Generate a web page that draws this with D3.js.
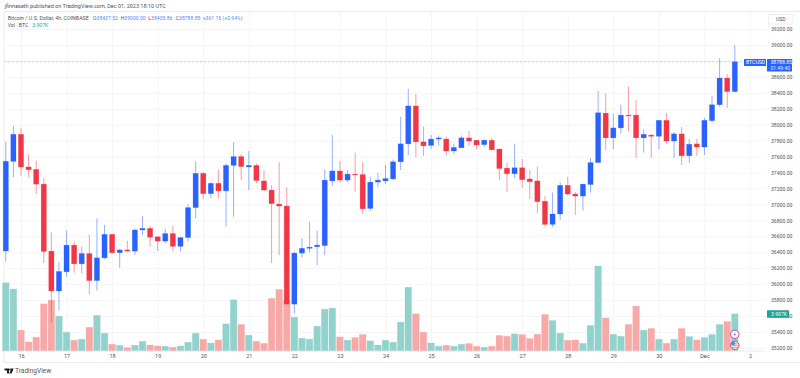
<!DOCTYPE html>
<html>
<head>
<meta charset="utf-8">
<title>BTCUSD 4h</title>
<script src="https://cdn.jsdelivr.net/npm/d3@7"></script>
<style>
  html, body { margin: 0; padding: 0; background: #fff; }
  svg { display: block; }
  text { font-family: Roboto, sans-serif; }
</style>
</head>
<body>
<div id="chart"></div>
<script>
// 4h candles, first bar is Nov 15 16:00
const opens = [36417,37540,37880,37470,37440,37255,36415,35915,36155,36490,36255,36385,36045,36330,36625,36395,36430,36415,36680,36700,36595,36540,36635,36475,36585,36960,37390,37135,37265,37170,37490,37600,37470,37490,37295,37180,37005,36980,35750,36390,36450,36470,36485,37295,37420,37305,37380,37375,36950,37280,37295,37320,37535,37760,38235,37785,37740,37820,37820,37670,37710,37835,37805,37750,37805,37695,37455,37385,37460,37320,37295,37040,36750,36880,37240,37130,37105,37250,37525,38145,37835,37960,38120,38120,37835,37870,37855,38055,37795,37885,37610,37760,37720,38050,38250,38585,38415];
const highs = [37787,37985,37960,37630,37550,37330,36650,36275,36670,36535,36470,36625,36825,36745,36630,36440,36545,36700,36855,36730,36600,36695,36730,36590,37000,37540,37405,37280,37440,37515,37780,37630,37670,37515,37430,37240,37530,37215,36405,36575,36785,36670,37440,37870,37545,37430,37650,37530,37350,37395,37495,37565,38100,38450,38385,37975,37870,37865,37850,37760,37865,37920,37810,37820,37830,37695,37525,37760,37570,37430,37475,37105,37150,37280,37345,37155,37255,37580,38425,38395,38135,38250,38475,38305,37940,37880,38060,38145,37910,37970,37820,37820,38085,38360,38835,38635,39000];
const lows = [36283,37340,37360,37340,37130,36265,35520,35670,36095,36145,36135,35875,35920,36315,36380,36205,36410,36370,36620,36470,36415,36515,36410,36410,36535,36825,37065,37075,37075,36720,36845,37305,37180,37265,37170,36265,36365,35745,35635,36335,36400,36240,36365,37230,37275,37280,37160,36880,36920,37215,37255,37305,37430,37620,37590,37610,37700,37740,37610,37635,37710,37735,37690,37725,37685,37305,37155,37330,37205,37070,36890,36730,36715,36805,37110,36870,36925,37150,37525,37675,37695,37885,37915,37585,37650,37585,37695,37760,37585,37495,37520,37610,37620,38030,38225,38210,38405.86];
const closes = [37542,37880,37470,37435,37255,36410,35915,36160,36490,36255,36385,36045,36330,36625,36395,36430,36415,36680,36700,36590,36540,36635,36475,36585,36960,37390,37135,37265,37170,37490,37600,37475,37490,37300,37180,37010,36980,35750,36390,36450,36465,36490,37305,37420,37305,37380,37370,36945,37280,37305,37325,37535,37760,38235,37785,37735,37820,37835,37670,37715,37835,37795,37745,37805,37685,37450,37385,37460,37310,37285,37035,36750,36880,37240,37130,37105,37255,37525,38150,37835,37960,38120,38110,37835,37880,37855,38055,37795,37885,37610,37755,37720,38055,38250,38585,38415,38788.85];
const volumes = [7.18,6.52,2.19,0.95,1.45,4.96,5.35,3.66,1.97,1.13,1.24,2.50,3.74,1.87,0.71,0.60,0.36,0.60,1.02,0.63,0.53,0.50,0.39,0.53,0.92,1.87,1.24,0.84,1.16,2.85,5.39,2.79,1.66,1.02,0.81,5.53,6.48,5.35,3.56,1.34,1.24,2.61,4.40,4.51,1.48,1.13,1.42,1.73,1.06,0.63,1.13,0.92,3.03,6.70,3.91,1.97,0.84,0.50,0.60,0.50,0.71,0.78,0.50,0.39,0.50,1.63,1.55,1.80,1.73,1.31,1.76,3.84,3.21,1.87,1.13,1.16,0.81,2.68,8.94,3.48,1.76,1.55,2.79,4.72,2.19,2.37,1.24,0.81,1.24,2.37,1.52,1.16,1.42,1.73,2.79,3.10,3.907];

const dayLabels = ["16","17","18","19","20","21","22","23","24","25","26","27","28","29","30","Dec","2"];
const dayBars = [2,8,14,20,26,32,38,44,50,56,62,68,74,80,86,92,98];
const priceTicks = [39200,39000,38800,38600,38400,38200,38000,37800,37600,37400,37200,37000,36800,36600,36400,36200,36000,35800,35600,35400,35200];

const lastPrice = 38788.85;
const lastVolume = 3.907;

const width = 800;
const height = 378;
const left = 4, top0 = 11.5, plotRight = 766, axisY = 351, bottom = 362.5;

const UP = "#2962ff", DOWN = "#f23645";
const VOL_UP = "#92d2cc", VOL_DOWN = "#f7a9a7";
const GRID = "#f1f3f8", BORDER = "#e3e5ec", LABEL = "#50535e";
const FONT = 5.1;

const svg = d3.select("#chart").append("svg").attr("width", width).attr("height", height);

const x = d3.scaleLinear().domain([0, 96]).range([5.8, 734.8]);
const y = d3.scaleLinear().domain([35200, 39200]).range([348, 29]);
const v = d3.scaleLinear().domain([0, 8.94]).range([axisY, 266]);

// frame
svg.append("rect")
  .attr("x", left).attr("y", top0)
  .attr("width", width - left + 2).attr("height", bottom - top0)
  .attr("fill", "#fff").attr("stroke", BORDER).attr("stroke-width", 0.8);

// grid lines, axes without labels
svg.append("g")
  .attr("transform", `translate(${left},0)`)
  .call(d3.axisRight(y).tickValues(priceTicks).tickSize(plotRight - left).tickFormat(""))
  .call(g => g.select(".domain").remove())
  .selectAll("line").attr("stroke", GRID).attr("stroke-width", 0.8);

svg.append("g")
  .attr("transform", `translate(0,${axisY})`)
  .call(d3.axisTop(x).tickValues(dayBars).tickSize(axisY - top0).tickFormat(""))
  .call(g => g.select(".domain").remove())
  .selectAll("line").attr("stroke", GRID).attr("stroke-width", 0.8);

// volume
svg.append("g").selectAll("rect")
  .data(volumes)
  .join("rect")
  .attr("x", (d, i) => x(i) - 3.3)
  .attr("y", d => v(d))
  .attr("width", 6.6)
  .attr("height", d => axisY - v(d))
  .attr("fill", (d, i) => closes[i] >= opens[i] ? VOL_UP : VOL_DOWN)
  .attr("stroke", (d, i) => closes[i] >= opens[i] ? VOL_UP : VOL_DOWN)
  .attr("stroke-opacity", 0.4)
  .attr("stroke-width", 0.7);

// bottom axis
svg.append("g")
  .attr("transform", `translate(0,${axisY})`)
  .call(d3.axisBottom(x).tickValues(dayBars).tickSize(0).tickPadding(3).tickFormat((d, i) => dayLabels[i]))
  .call(g => g.select(".domain").attr("stroke", BORDER).attr("stroke-width", 0.8).attr("d", `M${left},0H${plotRight}`))
  .selectAll("text")
  .attr("font-size", FONT + 0.4).attr("font-family", "Roboto, sans-serif").attr("fill", LABEL);

// last price line
svg.append("line")
  .attr("x1", left).attr("x2", plotRight)
  .attr("y1", y(lastPrice)).attr("y2", y(lastPrice))
  .attr("stroke", "#bcd0ff").attr("stroke-width", 0.9).attr("stroke-dasharray", "2.5,1.5");

// candles
const bars = svg.append("g").selectAll("g")
  .data(d3.range(opens.length))
  .join("g")
  .attr("fill", i => closes[i] >= opens[i] ? UP : DOWN)
  .attr("stroke", i => closes[i] >= opens[i] ? UP : DOWN);

bars.append("line")
  .attr("x1", i => x(i)).attr("x2", i => x(i))
  .attr("y1", i => y(highs[i])).attr("y2", i => y(lows[i]))
  .attr("stroke-width", 0.9)
  .attr("stroke-opacity", 0.55);

bars.append("rect")
  .attr("x", i => x(i) - 2.6)
  .attr("width", 5.2)
  .attr("y", i => y(Math.max(opens[i], closes[i])))
  .attr("height", i => Math.max(0.8, Math.abs(y(opens[i]) - y(closes[i]))))
  .attr("stroke-width", 0.6)
  .attr("stroke-opacity", 0.35);

// price axis
const priceAxis = svg.append("g")
  .attr("transform", `translate(771,0)`)
  .call(d3.axisRight(y).tickValues(priceTicks).tickSize(0).tickPadding(0).tickFormat(d3.format(".2f")))
  .call(g => g.select(".domain").remove());
priceAxis.selectAll("text")
  .attr("font-size", FONT).attr("font-family", "Roboto, sans-serif").attr("fill", LABEL);

// currency box
svg.append("rect").attr("x", 768.5).attr("y", 14.5).attr("width", 24.5).attr("height", 9.5).attr("rx", 1.5)
  .attr("fill", "#fff").attr("stroke", BORDER).attr("stroke-width", 0.7);
svg.append("text").attr("x", 776).attr("y", 21).attr("font-size", FONT).attr("fill", LABEL).text("USD");

// last price badges
svg.append("rect").attr("x", 744).attr("y", 59).attr("width", 22).attr("height", 7).attr("fill", UP);
svg.append("text").attr("x", 746).attr("y", 64.4).attr("font-size", FONT).attr("fill", "#fff").text("BTCUSD");
svg.append("rect").attr("x", 767).attr("y", 59).attr("width", 25).attr("height", 12.5).attr("rx", 0.5).attr("fill", UP);
svg.append("text").attr("x", 770.5).attr("y", 64.4).attr("font-size", FONT).attr("fill", "#fff").text(lastPrice.toFixed(2));
svg.append("text").attr("x", 770.5).attr("y", 70.2).attr("font-size", FONT).attr("fill", "#dbe5ff").text("01:49:40");

// last volume badge
svg.append("rect").attr("x", 767).attr("y", v(lastVolume) - 3.5).attr("width", 22).attr("height", 7.5).attr("rx", 0.5).attr("fill", "#1ea394");
svg.append("text").attr("x", 771).attr("y", v(lastVolume) + 2.1).attr("font-size", FONT).attr("fill", "#fff").text(lastVolume.toFixed(3) + "K");

// event icons on the last bar
const iconX = x(96);
svg.append("circle").attr("cx", iconX).attr("cy", 334.3).attr("r", 4.2).attr("fill", "#fff").attr("stroke", "#ab47bc").attr("stroke-width", 1);
svg.append("path").attr("d", `M${iconX + 0.8},331.6L${iconX - 1.2},334.7H${iconX}L${iconX - 0.8},337L${iconX + 1.2},333.9H${iconX}Z`).attr("fill", "#ab47bc");
svg.append("circle").attr("cx", iconX).attr("cy", 345.3).attr("r", 4.2).attr("fill", "#fff").attr("stroke", "#f23645").attr("stroke-width", 1);
[343.8, 345.6, 347.4].forEach(yy => {
  svg.append("line").attr("x1", iconX - 3).attr("x2", iconX + 3).attr("y1", yy).attr("y2", yy).attr("stroke", "#f77c80").attr("stroke-width", 0.9);
});
svg.append("circle").attr("cx", iconX - 1.7).attr("cy", 343.3).attr("r", 2.1).attr("fill", "#4a90e8");

// header and legend
svg.append("text").attr("x", 4.7).attr("y", 8.3).attr("font-size", FONT + 0.4).attr("fill", LABEL)
  .text("jfinneseth published on TradingView.com, Dec 01, 2023 18:10 UTC");

svg.append("text").attr("x", 7.7).attr("y", 19.7).attr("font-size", FONT + 0.2).attr("fill", LABEL)
  .text("Bitcoin / U.S. Dollar, 4h, COINBASE");

const ohlcLabels = ["O", "H", "L", "C"];
const ohlcValues = ["38437.52", "39000.00", "38405.86", "38788.85"];
const ohlcX = [93, 120.7, 148.3, 175.7];
ohlcLabels.forEach((label, i) => {
  const t = svg.append("text").attr("x", ohlcX[i]).attr("y", 19.7).attr("font-size", FONT).attr("fill", LABEL).text(label);
  t.append("tspan").attr("fill", UP).attr("fill-opacity", 0.8).text(ohlcValues[i]);
});
svg.append("text").attr("x", 202.7).attr("y", 19.7).attr("font-size", FONT).attr("fill", UP).attr("fill-opacity", 0.8).text("+361.15 (+0.94%)");

svg.append("text").attr("x", 7.7).attr("y", 27.2).attr("font-size", FONT).attr("fill", LABEL).text("Vol · BTC");
svg.append("text").attr("x", 32.3).attr("y", 27.2).attr("font-size", FONT).attr("fill", "#26a69a").text(lastVolume.toFixed(3) + "K");

// footer logo
svg.append("path").attr("d", "M4.5,368.5H9V373.5H7V370.5H4.5Z").attr("fill", "#1b1e27");
svg.append("circle").attr("cx", 10).attr("cy", 369.4).attr("r", 0.9).attr("fill", "#1b1e27");
svg.append("path").attr("d", "M11.2,368.5H13.6L11.6,373.5H9.4Z").attr("fill", "#1b1e27");
svg.append("text").attr("x", 15).attr("y", 373.2).attr("font-size", 6.6).attr("fill", "#555").text("TradingView");
</script>
</body>
</html>
